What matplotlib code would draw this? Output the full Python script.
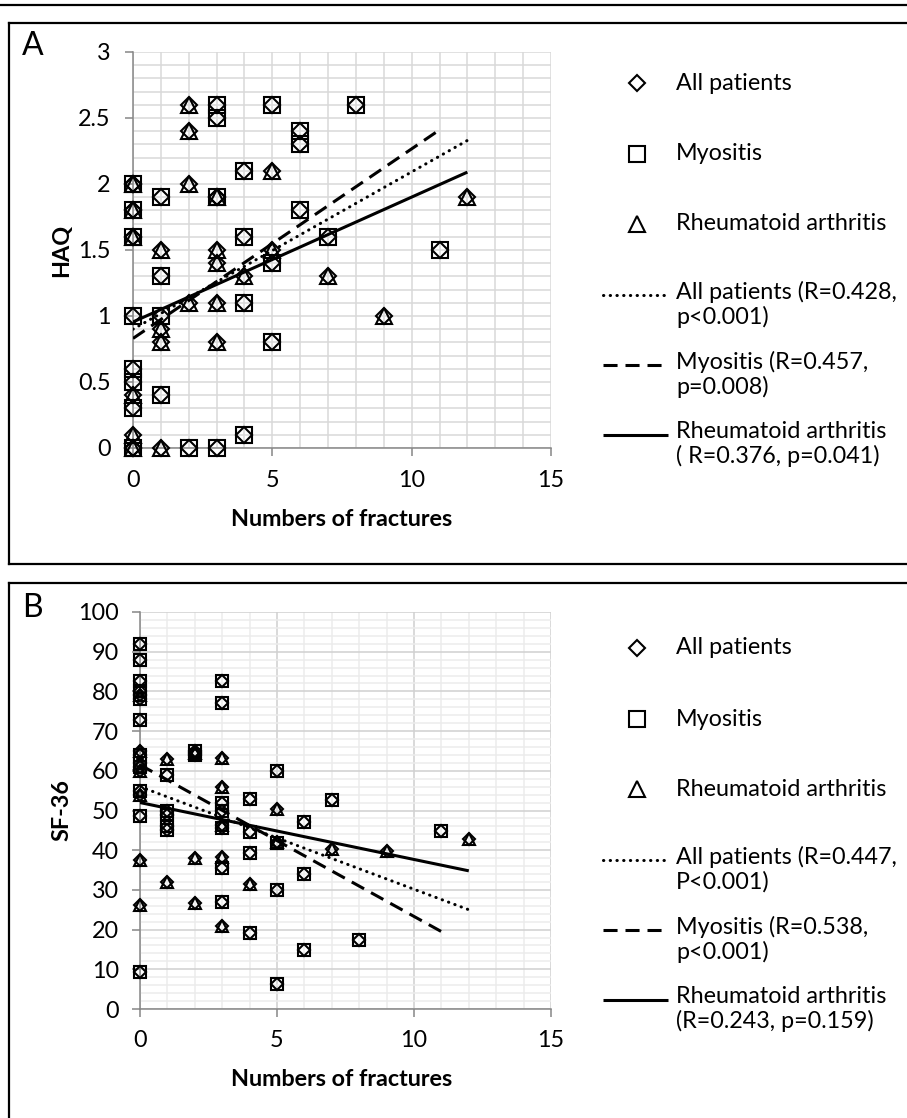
import matplotlib
matplotlib.use("Agg")
import matplotlib.pyplot as plt
from matplotlib.lines import Line2D
import numpy as np

plt.rcParams['font.family'] = ['Lato', 'DejaVu Sans']

# ---------------- Data: panel A (HAQ) ----------------
haq_myo_x = [0, 0, 0, 0, 0, 0, 0, 0, 1, 1, 1, 1, 2, 3, 3, 3, 3, 4, 4, 4, 4, 5, 5, 5, 6, 6, 6, 7, 8, 11]
haq_myo_y = [2.0, 1.8, 1.6, 1.0, 0.6, 0.5, 0.3, 0.0, 1.9, 1.3, 1.0, 0.4, 0.0, 2.6, 2.5, 1.9, 0.0,
             2.1, 1.6, 1.1, 0.1, 2.6, 1.4, 0.8, 2.4, 2.3, 1.8, 1.6, 2.6, 1.5]
haq_ra_x = [0, 0, 0, 0, 0, 0, 1, 1, 1, 1, 2, 2, 2, 2, 3, 3, 3, 3, 3, 4, 5, 5, 7, 9, 12]
haq_ra_y = [2.0, 1.8, 1.6, 0.4, 0.1, 0.0, 1.5, 0.9, 0.8, 0.0, 2.6, 2.4, 2.0, 1.1,
            1.9, 1.5, 1.4, 1.1, 0.8, 1.3, 2.1, 1.5, 1.3, 1.0, 1.9]
# trend lines (x range, y at ends)
haq_trend_all_x = [0, 12]
haq_trend_all_y = [0.90, 2.33]
haq_trend_myo_x = [0, 11]
haq_trend_myo_y = [0.83, 2.41]
haq_trend_ra_x = [0, 12]
haq_trend_ra_y = [0.955, 2.09]

# ---------------- Data: panel B (SF-36) ----------------
sf_myo_x = [0, 0, 0, 0, 0, 0, 0, 0, 0, 0, 0,
            1, 1, 1, 1, 1, 2, 2,
            3, 3, 3, 3, 3, 3, 3,
            4, 4, 4, 4, 5, 5, 5, 5, 6, 6, 6, 7, 8, 11]
sf_myo_y = [92, 88, 82.5, 80, 78, 72.7, 64, 61, 55, 48.6, 9.2,
            59, 50, 48.8, 46, 45, 65, 64,
            82.5, 77, 52, 50, 45.5, 35.4, 27,
            52.8, 44.6, 39.3, 19.2, 60, 41.7, 30.1, 6.2, 47.1, 34.1, 14.8, 52.6, 17.4, 44.8]
sf_ra_x = [0, 0, 0, 0, 0, 0, 0, 1, 1, 2, 2, 2, 3, 3, 3, 3, 3, 4, 5, 5, 7, 9, 12]
sf_ra_y = [79, 65, 62, 60, 54, 37.5, 26.3, 63, 32, 64.5, 38, 26.6,
           63.3, 56, 46.3, 38.3, 20.9, 31.6, 50.5, 42, 40.4, 39.8, 42.9]
sf_trend_all_x = [0, 12]
sf_trend_all_y = [56, 25]
sf_trend_myo_x = [0, 11]
sf_trend_myo_y = [61.5, 19.5]
sf_trend_ra_x = [0, 12]
sf_trend_ra_y = [52, 34.8]

legend_a = ["All patients", "Myositis", "Rheumatoid arthritis",
            "All patients (R=0.428,\np<0.001)", "Myositis (R=0.457,\np=0.008)",
            "Rheumatoid arthritis\n( R=0.376, p=0.041)"]
legend_b = ["All patients", "Myositis", "Rheumatoid arthritis",
            "All patients (R=0.447,\nP<0.001)", "Myositis (R=0.538,\np<0.001)",
            "Rheumatoid arthritis\n(R=0.243, p=0.159)"]

W, H = 907, 1118
fig = plt.figure(figsize=(W / 100, H / 100), dpi=100)


def fx(px):
    return px / W


def fy(py):
    return 1 - py / H


def axes_px(l, t, r, b):
    return fig.add_axes([fx(l), fy(b), (r - l) / W, (b - t) / H])


FS = 16.8
AXIS_GRAY = '#868686'
LW = 2.2
DOT = dict(linestyle=(0, (0.1, 2.1)), dash_capstyle='round')
DASH = dict(linestyle=(0, (4.6, 2.6)), dash_capstyle='butt')
SOLID = dict(linestyle='-', solid_capstyle='butt')


def style_axes(ax, xmax, ymax, xmaj, ymaj, xmin, ymin, major_grid, minor_grid, pad):
    ax.set_xlim(0, xmax)
    ax.set_ylim(0, ymax)
    ax.set_xticks(np.arange(0, xmax + 1e-9, xmaj))
    ax.set_yticks(np.arange(0, ymax + 1e-9, ymaj))
    ax.set_xticks(np.arange(0, xmax + 1e-9, xmin), minor=True)
    ax.set_yticks(np.arange(0, ymax + 1e-9, ymin), minor=True)
    ax.grid(True, which='minor', color=minor_grid, lw=1.1, zorder=0)
    ax.grid(True, which='major', color=major_grid, lw=1.1, zorder=0)
    ax.set_axisbelow(True)
    for s in ['top', 'right']:
        ax.spines[s].set_visible(False)
    for s in ['left', 'bottom']:
        ax.spines[s].set_color(AXIS_GRAY)
        ax.spines[s].set_linewidth(1.1)
    ax.tick_params(which='major', direction='out', length=6, width=1.1, color=AXIS_GRAY,
                   labelsize=FS, pad=pad, labelcolor='black')
    ax.tick_params(which='minor', length=0)


def draw_points(ax, mx, my, rx, ry, ms_sq, ms_d, ms_t, mew):
    all_x = list(mx) + list(rx)
    all_y = list(my) + list(ry)
    ax.plot(all_x, all_y, linestyle='none', marker='D', ms=ms_d, mfc='none', mec='black',
            mew=mew, clip_on=False, zorder=3)
    ax.plot(mx, my, linestyle='none', marker='s', ms=ms_sq, mfc='none', mec='black',
            mew=mew, clip_on=False, zorder=3)
    ax.plot(rx, ry, linestyle='none', marker='^', ms=ms_t, mfc='none', mec='black',
            mew=mew, clip_on=False, zorder=3)


def draw_trends(ax, ax_, ay_, mx_, my_, rx_, ry_):
    ax.plot(ax_, ay_, color='black', lw=LW, zorder=4, **DOT)
    ax.plot(mx_, my_, color='black', lw=LW, zorder=4, **DASH)
    ax.plot(rx_, ry_, color='black', lw=LW, zorder=4, **SOLID)


def draw_legend(labels, y0):
    mk_x = 637
    tx = 676
    rows = [y0, y0 + 71, y0 + 141]
    markers = ['D', 's', '^']
    sizes = [8.0, 11.0, 11.0]
    for lab, yy, m, s in zip(labels[:3], rows, markers, sizes):
        fig.add_artist(Line2D([fx(mk_x)], [fy(yy)], transform=fig.transFigure, marker=m,
                              ms=s, mfc='none', mec='black', mew=1.5, linestyle='none'))
        fig.text(fx(tx), fy(yy), lab, fontsize=FS, va='center', ha='left')
    line_rows = [y0 + 212, y0 + 282, y0 + 352]
    styles = [DOT, DASH, SOLID]
    for lab, yy, st in zip(labels[3:], line_rows, styles):
        fig.add_artist(Line2D([fx(603), fx(668)], [fy(yy), fy(yy)], transform=fig.transFigure,
                              color='black', lw=LW, **st))
        fig.text(fx(tx), fy(yy - 14), lab, fontsize=FS, va='top', ha='left', linespacing=1.15)


# ---------------- Panel A ----------------
axA = axes_px(133, 52, 551, 448)
style_axes(axA, 15, 3, 5, 0.5, 1, 0.1, '#d9d9d9', '#d9d9d9', 10)
axA.set_yticklabels(['0', '0.5', '1', '1.5', '2', '2.5', '3'])
draw_points(axA, haq_myo_x, haq_myo_y, haq_ra_x, haq_ra_y, 12, 8.6, 11, 1.5)
draw_trends(axA, haq_trend_all_x, haq_trend_all_y, haq_trend_myo_x, haq_trend_myo_y,
            haq_trend_ra_x, haq_trend_ra_y)
fig.text(fx(342), fy(519), 'Numbers of fractures', fontsize=FS, fontweight='bold',
         ha='center', va='center')
fig.text(fx(62), fy(250), 'HAQ', fontsize=FS, fontweight='bold', rotation=90,
         ha='center', va='center')
fig.text(fx(22), fy(46), 'A', fontsize=23, ha='left', va='center')
draw_legend(legend_a, 83)

# ---------------- Panel B ----------------
axB = axes_px(140, 612, 551, 1009)
style_axes(axB, 15, 100, 5, 10, 1, 2, '#d0d0d0', '#ececec', 9)
draw_points(axB, sf_myo_x, sf_myo_y, sf_ra_x, sf_ra_y, 8.5, 6.0, 8.0, 1.5)
draw_trends(axB, sf_trend_all_x, sf_trend_all_y, sf_trend_myo_x, sf_trend_myo_y,
            sf_trend_ra_x, sf_trend_ra_y)
fig.text(fx(342), fy(1080), 'Numbers of fractures', fontsize=FS, fontweight='bold',
         ha='center', va='center')
fig.text(fx(62), fy(810), 'SF-36', fontsize=FS, fontweight='bold', rotation=90,
         ha='center', va='center')
fig.text(fx(22), fy(608), 'B', fontsize=23, ha='left', va='center')
draw_legend(legend_b, 648)

# ---------------- Frames ----------------
def fline(x0, y0, x1, y1, lw=1.6):
    fig.add_artist(Line2D([fx(x0), fx(x1)], [fy(y0), fy(y1)], transform=fig.transFigure,
                          color='black', lw=lw, solid_capstyle='projecting'))


fline(0, 5, W, 5)
fline(9, 23, W, 23)
fline(9, 23, 9, 564)
fline(9, 564, W, 564)
fline(9, 583, W, 583)
fline(9, 583, 9, H)

fig.savefig('out.png', dpi=100)
